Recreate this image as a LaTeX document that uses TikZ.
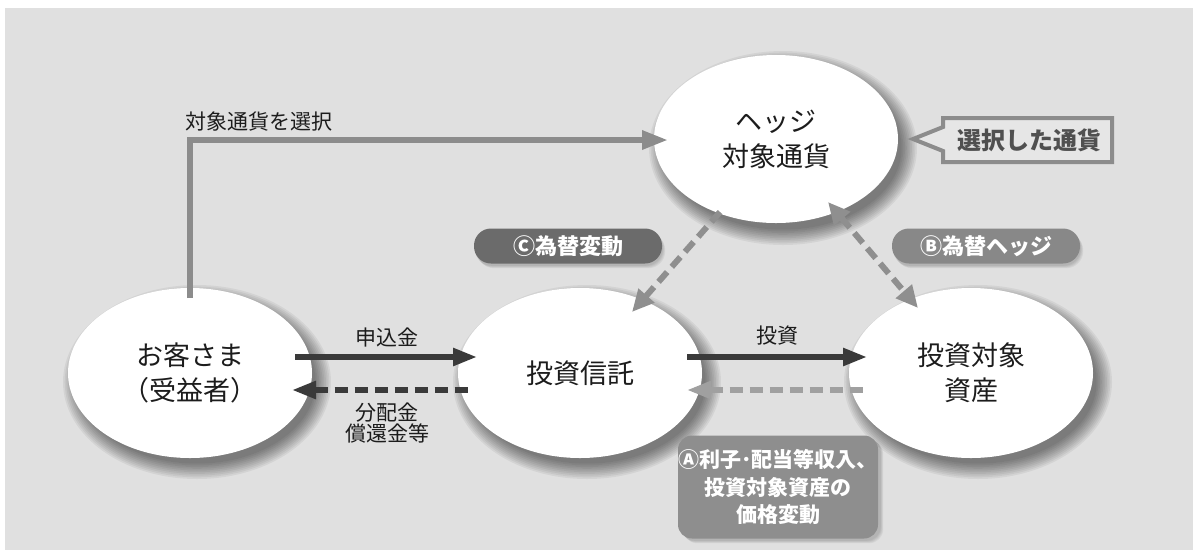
\documentclass[tikz,border=0pt]{standalone}
\usepackage{fontspec}
\setmainfont{Noto Sans CJK JP}
\usetikzlibrary{shapes.geometric,arrows.meta,calc}
\definecolor{bg}{RGB}{224,224,224}
\definecolor{txt}{RGB}{28,28,28}
\definecolor{darkarr}{RGB}{58,58,58}
\definecolor{toparr}{RGB}{140,140,140}
\definecolor{diagarr}{RGB}{143,143,143}
\definecolor{lightarr}{RGB}{160,160,160}
\definecolor{cbadge}{RGB}{107,107,107}
\definecolor{bbadge}{RGB}{136,136,136}
\definecolor{abadge}{RGB}{142,142,142}
\definecolor{callline}{RGB}{140,140,140}
\definecolor{calltxt}{RGB}{80,80,80}
\definecolor{callfill}{RGB}{230,230,230}
\begin{document}
\begin{tikzpicture}[x=1pt,y=-1pt,
  ell/.style={ellipse,fill=white,minimum width=244pt,minimum height=170pt,inner sep=0pt,align=center,font=\fontsize{27}{35}\selectfont,text=txt},
  lbl/.style={font=\fontsize{21}{23}\selectfont,text=txt,align=center,inner sep=0pt},
  solidarr/.style={draw=darkarr,line width=5.5pt,-{Triangle[length=24pt,width=17pt]}},
  darkdash/.style={draw=darkarr,line width=5.5pt,dash pattern=on 13pt off 7pt,{Triangle[length=24pt,width=17pt]}-},
  lightdash/.style={draw=lightarr,line width=5.5pt,dash pattern=on 13pt off 7pt,{Triangle[length=24pt,width=17pt]}-},
  diagdash/.style={draw=diagarr,line width=6pt,dash pattern=on 13pt off 7pt},
  pill/.style={fill=#1,rounded corners=17pt,minimum height=35pt,minimum width=188pt,text=white,font=\fontsize{22}{24}\selectfont\bfseries,inner sep=0pt},
]
\useasboundingbox (0,0) rectangle (1203,550);
\fill[white] (0,0) rectangle (1203,550);
\fill[bg] (5,8) rectangle (1193,550);

% soft shadows
\foreach \cx/\cy in {190/373, 580/373, 971/373, 776/139}{
  \foreach \i in {1,...,10}{
    \fill[black,opacity=0.055] (\cx+7,\cy+9) ellipse ({117+\i*1.7} and {80+\i*1.7});
  }
}
\foreach \i in {1,...,4}{
  \fill[black,opacity=0.05,rounded corners=14pt] (680+\i*0.8,437+\i*0.8) rectangle (880+\i*0.8,540+\i*0.8);
  \fill[black,opacity=0.05,rounded corners=17pt] (474+\i*0.8,230+\i*0.8) rectangle (662+\i*0.8,265+\i*0.8);
  \fill[black,opacity=0.05,rounded corners=17pt] (892+\i*0.8,230+\i*0.8) rectangle (1080+\i*0.8,265+\i*0.8);
}

% main nodes
\node[ell] (cust) at (190,373) {お客さま\\（受益者）};
\node[ell] (inv) at (580,373) {投資信託};
\node[ell] (asset) at (971,373) {投資対象\\資産};
\node[ell,minimum height=168pt] (hedge) at (776,139) {ヘッジ\\対象通貨};

% top path
\draw[draw=toparr,line width=6pt,line join=miter,-{Triangle[length=26pt,width=18pt]}]
  ($(cust.center)+(0,-75)$) |- ($(hedge.center)+(-108,1)$);
\node[lbl,anchor=west] (sellbl) at (185,122) {対象通貨を選択};

% horizontal arrows
\draw[solidarr] ($(cust.center)+(105,-16)$) -- ($(inv.center)+(-103,-16)$);
\node[lbl] (moshi) at (387,337) {申込金};
\draw[darkdash] ($(cust.center)+(102,17)$) -- ($(inv.center)+(-108,17)$);
\node[lbl,font=\fontsize{21}{21}\selectfont] (bunpai) at (387,423) {分配金\\償還金等};
\draw[solidarr] ($(inv.center)+(107,-16)$) -- ($(asset.center)+(-104,-16)$);
\node[lbl] (toushi) at (777,336) {投資};
\draw[lightdash] ($(inv.center)+(107,17)$) -- ($(asset.center)+(-104,17)$);

% diagonal dashed
\draw[diagdash,-{Triangle[length=22pt,width=20pt]}] ($(hedge.center)+(-56,73)$) -- ($(inv.center)+(52,-61)$);
\draw[diagdash,{Triangle[length=22pt,width=20pt]}-{Triangle[length=22pt,width=20pt]}] ($(hedge.center)+(52,63)$) -- ($(asset.center)+(-53,-65)$);

% badges
\node[pill=cbadge] (cb) at (568,246) {Ⓒ為替変動};
\node[pill=bbadge] (bb) at (986,246) {Ⓑ為替ヘッジ};
\node[fill=abadge,rounded corners=14pt,minimum width=200pt,minimum height=103pt,text=white,font=\fontsize{21}{27.5}\selectfont\bfseries,align=center,inner sep=0pt] (ab) at (778,487) {Ⓐ利子･配当等収入、\\投資対象資産の\\価格変動};

% callout
\draw[draw=callline,fill=callfill,line width=4pt,line join=miter]
  (943,118) -- (1112,118) -- (1112,162) -- (943,162) -- (943,151) -- (913,139) -- (943,127) -- cycle;
\node[font=\fontsize{24}{26}\selectfont\bfseries,text=calltxt,inner sep=0pt] (callt) at (1029,140) {選択した通貨};
\end{tikzpicture}
\end{document}
